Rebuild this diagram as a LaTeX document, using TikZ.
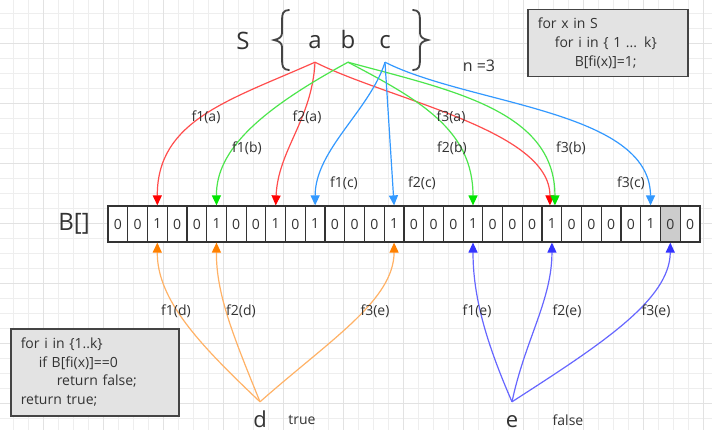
\documentclass[tikz,border=0pt]{standalone}
\usepackage{fontspec}
\setmainfont{Open Sans}
\usetikzlibrary{arrows.meta}

\definecolor{ink}{HTML}{333333}
\definecolor{gridmin}{HTML}{EEEEEE}
\definecolor{gridmaj}{HTML}{E2E2E2}
\definecolor{boxfill}{HTML}{E3E3E3}
\definecolor{boxline}{HTML}{444444}
\definecolor{cellgray}{HTML}{CCCCCC}
\definecolor{lred}{HTML}{FF4D4D}
\definecolor{hred}{HTML}{FF0000}
\definecolor{lgreen}{HTML}{4CE64C}
\definecolor{hgreen}{HTML}{00E600}
\definecolor{lblue}{HTML}{3399FF}
\definecolor{lorange}{HTML}{FFB266}
\definecolor{horange}{HTML}{FF8000}
\definecolor{lviolet}{HTML}{6666FF}
\definecolor{hviolet}{HTML}{3333FF}

\begin{document}
\begin{tikzpicture}[x=1pt, y=-1pt,
  every node/.style={text=ink, font=\fontsize{14}{16}\selectfont},
  elem/.style={font=\fontsize{24}{28}\selectfont, inner sep=0pt, inner ysep=13pt, text height=17pt, text depth=0pt, anchor=base},
  query/.style={font=\fontsize{22}{26}\selectfont, inner sep=0pt, inner ysep=9pt, text height=16pt, text depth=0pt, anchor=base},
  cell/.style={draw=ink, line width=1.2pt, fill=white, minimum width=19.73pt, minimum height=36pt, inner sep=0pt},
  codebox/.style={draw=boxline, fill=boxfill, line width=1.5pt, align=left, anchor=north west, inner xsep=10pt},
  fct/.style={inner sep=1pt},
  fa/.style={draw=lred, line width=1.2pt, -{Triangle[width=9pt, length=10pt, color=hred]}},
  fb/.style={draw=lgreen, line width=1.2pt, -{Triangle[width=9pt, length=10pt, color=hgreen]}},
  fc/.style={draw=lblue, line width=1.2pt, -{Triangle[width=9pt, length=10pt, color=lblue]}},
  fd/.style={draw=lorange, line width=1.2pt, -{Triangle[width=9pt, length=10pt, color=horange]}},
  fe/.style={draw=lviolet, line width=1.2pt, -{Triangle[width=9pt, length=10pt, color=hviolet]}},
  brace/.style={draw=boxline, line width=1.8pt, line cap=round}]

  \useasboundingbox (0,0) rectangle (722,433);
  \fill[white] (0,0) rectangle (722,433);

  % Grille de fond
  \foreach \gx in {13,28,...,703} \draw[gridmin, line width=0.6pt] (\gx,0) -- (\gx,430);
  \foreach \gy in {13,28,...,428} \draw[gridmin, line width=0.6pt] (0,\gy) -- (712,\gy);
  \foreach \gx in {43,103,...,703} \draw[gridmaj, line width=0.8pt] (\gx,0) -- (\gx,430);
  \foreach \gy in {43,103,...,403} \draw[gridmaj, line width=0.8pt] (0,\gy) -- (712,\gy);

  % Ensemble S
  \node[font=\fontsize{24}{28}\selectfont, anchor=base] (setS) at (243,50) {S};
  \draw[brace] (289,10) .. controls (283,10) and (282,14) .. (282,20) -- (282,33)
    .. controls (282,37) and (279,39) .. (274,40) .. controls (279,41) and (282,43) .. (282,47)
    -- (282,60) .. controls (282,66) and (283,70) .. (289,70);
  \draw[brace] (413,10) .. controls (419,10) and (420,14) .. (420,20) -- (420,33)
    .. controls (420,37) and (423,39) .. (428,40) .. controls (423,41) and (420,43) .. (420,47)
    -- (420,60) .. controls (420,66) and (419,70) .. (413,70);
  \node[elem] (va) at (315,49) {a};
  \node[elem] (vb) at (348,49) {b};
  \node[elem] (vc) at (385,49) {c};
  \node[font=\fontsize{16}{18}\selectfont, anchor=base] (nhash) at (479,72) {n =3};

  % Insertion
  \node[codebox, text width=140pt, minimum height=67pt, font=\fontsize{14}{19}\selectfont] (insert) at (527,9)
    {for x in S\\\hspace*{17pt}for i in \{ 1 ... k\}\\\hspace*{37pt}B[fi(x)]=1;};

  % Tableau B
  \node[font=\fontsize{24}{28}\selectfont] (arrB) at (74,224) {B[]};
  \foreach \v [count=\i from 0] in {0,0,1,0,0,1,0,0,1,0,1,0,0,0,1,0,0,0,1,0,0,0,1,0,0,0,0,1,0,0}
    \node[cell] (c\i) at ({108+19.73*(\i+0.5)},224) {\v};
  \node[cell, fill=cellgray] (c28) at (c28) {0};

  % Fonctions de hachage
  \draw[fa] (va.south) .. controls (230,100) and (157,120) .. (c2.north);
  \draw[fa] (va.south) .. controls (312,120) and (278,150) .. (c8.north);
  \draw[fa] (va.south) .. controls (390,100) and (550,130) .. ([xshift=-2pt]c22.north);
  \draw[fb] (vb.south) .. controls (260,110) and (216,150) .. (c5.north);
  \draw[fb] (vb.south) .. controls (420,100) and (473,130) .. (c18.north);
  \draw[fb] (vb.south) .. controls (450,90) and (555,110) .. ([xshift=3pt]c22.north);
  \draw[fc] (vc.south) .. controls (370,110) and (315,150) .. (c10.north);
  \draw[fc] (vc.south) -- (c14.north);
  \draw[fc] (vc.south) .. controls (470,105) and (650,110) .. (c27.north);

  \node[fct] (l1a) at (206,117) {f1(a)};
  \node[fct] (l2a) at (307,117) {f2(a)};
  \node[fct] (l3a) at (451,117) {f3(a)};
  \node[fct] (l1b) at (247,148) {f1(b)};
  \node[fct] (l2b) at (452,148) {f2(b)};
  \node[fct] (l3b) at (571,148) {f3(b)};
  \node[fct] (l1c) at (344,183) {f1(c)};
  \node[fct] (l2c) at (422,183) {f2(c)};
  \node[fct] (l3c) at (631,183) {f3(c)};

  % Requetes
  \node[query] (vd) at (260,427) {d};
  \node[query] (ve) at (512,427) {e};
  \node[anchor=base] (ans1) at (302,424) {true};
  \node[anchor=base] (ans2) at (568,425) {false};

  \draw[fd] (vd.north) .. controls (200,345) and (157,300) .. (c2.south);
  \draw[fd] (vd.north) .. controls (235,340) and (216,295) .. (c5.south);
  \draw[fd] (vd.north) .. controls (330,340) and (394,300) .. (c14.south);
  \draw[fe] (ve.north) .. controls (485,340) and (473,295) .. (c18.south);
  \draw[fe] (ve.north) .. controls (525,340) and (552,300) .. (c22.south);
  \draw[fe] (ve.north) .. controls (600,345) and (670,300) .. (c28.south);

  \node[fct] (l1d) at (176,311) {f1(d)};
  \node[fct] (l2d) at (241,311) {f2(d)};
  \node[fct] (l3d) at (375,311) {f3(e)};
  \node[fct] (l1e) at (477,311) {f1(e)};
  \node[fct] (l2e) at (567,311) {f2(e)};
  \node[fct] (l3e) at (656,311) {f3(e)};

  % Test d'appartenance
  \node[codebox, text width=148pt, minimum height=87pt, font=\fontsize{14}{18.5}\selectfont] (lookup) at (10,328)
    {for i in \{1..k\}\\\hspace*{18pt}if B[fi(x)]==0\\\hspace*{36pt}return false;\\return true;};
\end{tikzpicture}
\end{document}
